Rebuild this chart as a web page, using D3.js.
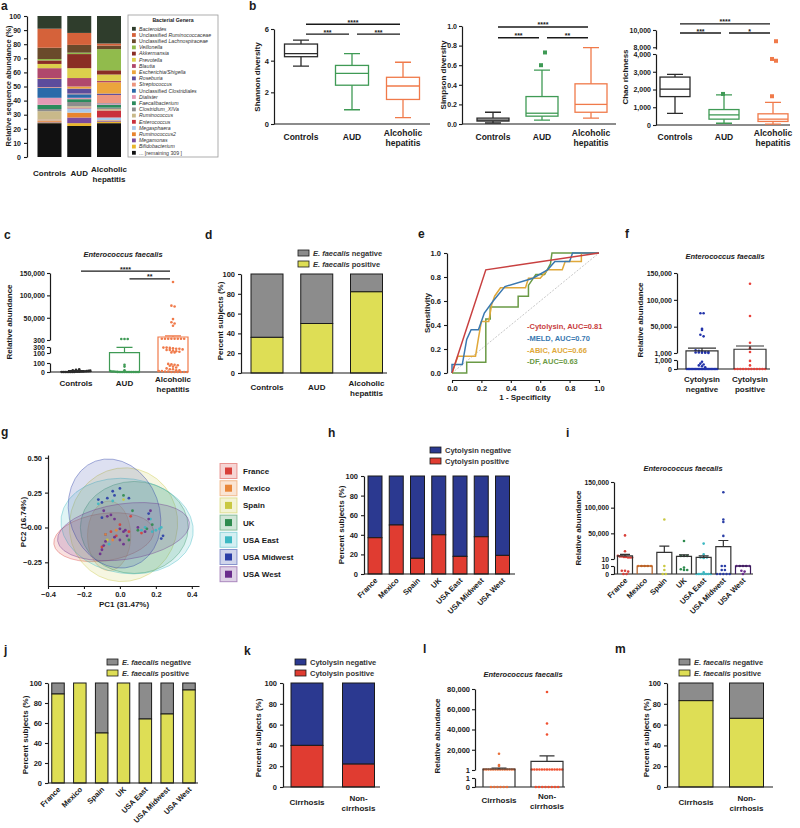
<!DOCTYPE html>
<html>
<head>
<meta charset="utf-8">
<script src="https://cdn.jsdelivr.net/npm/d3@7"></script>
<style>
  body { margin: 0; background: #fff; }
  svg { display: block; font-family: "Liberation Sans", Arial, sans-serif; }
</style>
</head>
<body>
<svg id="fig" width="800" height="828"></svg>
<script>
// ================= DATA =================

// a: genus composition (% reads), listed bottom -> top of each stack
const groups = ['Controls', 'AUD', 'Alcoholic\nhepatitis'];
const genera = ['... [remaining 309 ]', 'Bifidobacterium', 'Megamonas', 'Ruminococcus2', 'Megasphaera',
  'Enterococcus', 'Ruminococcus', 'Clostridium_XIVa', 'Faecalibacterium', 'Dialister',
  'Unclassified Clostridiales', 'Streptococcus', 'Roseburia', 'Escherichia/Shigella', 'Blautia',
  'Prevotella', 'Akkermansia', 'Veillonella', 'Unclassified Lachnospiraceae',
  'Unclassified Ruminococcaceae', 'Bacteroides'];
const generaColors = ['#111111', '#e8b62c', '#7b4b9e', '#e8842e', '#a9c9ea', '#c9303c', '#c9b98a',
  '#8d8d8d', '#2b8b5d', '#e39ab5', '#2a6aa9', '#ec9680', '#5c4c9c', '#eba53c', '#b0486c',
  '#dccf4c', '#8a2d25', '#91bb4c', '#6a4a2b', '#d5623a', '#2f3d2c'];
const controlsPct = [24, 0.5, 0.5, 1, 0.3, 0.2, 6, 1.5, 3, 5, 7, 0.5, 6, 0.5, 7, 3, 2.5, 1, 8, 13.5, 9];
const audPct      = [22, 2, 4, 3.5, 3, 0.5, 1, 3, 2, 1, 2.5, 0.5, 3.5, 1.5, 6, 7, 10, 1, 5.5, 8.5, 12];
const ahPct       = [24, 1, 0.5, 0.5, 2, 5, 1, 1, 2, 0.5, 0.5, 6, 1, 8, 1, 4.5, 3, 15, 2.5, 1.5, 19.5];

// b: box plots, [min, q1, median, q3, max]
const groupColors = ['#2b2b2b', '#3f9a55', '#f07a4a'];
const shannonBox = [[3.65, 4.25, 4.45, 5.05, 5.3], [0.9, 2.45, 3.2, 3.7, 4.45], [0.4, 1.55, 2.4, 2.95, 3.9]];
const shannonOut = [[], [], []];
const shannonSig = [[0, 2, 6.3, '****'], [0, 1, 5.68, '***'], [1, 2, 5.68, '***']];
const simpsonBox = [[0.01, 0.03, 0.04, 0.06, 0.12], [0.04, 0.08, 0.11, 0.28, 0.55], [0.06, 0.12, 0.2, 0.41, 0.78]];
const simpsonOut = [[], [0.6, 0.73], []];
const simpsonSig = [[0, 2, 0.99, '****'], [0, 1, 0.88, '***'], [1, 2, 0.88, '**']];
const chaoBox = [[650, 1600, 2020, 2700, 2850], [100, 330, 570, 870, 1700], [50, 200, 330, 630, 1280]];
const chaoOut = [[], [1750], [1620, 3620, 3720, 8700]];
const chaoSig = [[0, 2, 10700, '****'], [0, 1, 9650, '***'], [1, 2, 9650, '*']];

// c: E. faecalis abundance per group
const cMeans = [5, 110, 7000];
const cSemTop = [15, 290, 9500];
const cDots = [
  [0, 0, 0, 0, 0, 0, 0, 0, 2, 2, 3, 5, 5, 8, 10, 12, 15, 20, 25, 30],
  [2500, 2500, 2500, 80, 60, 20, 10, 5, 5, 2, 1, 0, 0, 0, 0, 0, 0, 0, 0, 0, 0, 0, 0],
  [130000, 77000, 75000, 47000, 40000, 37000, 32000, 3000, 3000, 3000, 3000, 3000, 3000, 3000, 3000,
   280, 280, 270, 260, 240, 240, 220, 200, 200, 180, 160, 140, 120, 120,
   90, 85, 80, 75, 70, 60, 50, 40, 30, 30, 20, 20, 10, 10, 5, 5, 0, 0, 0, 0, 0, 0]
];
const cSig = [[0, 2, 154000, '****'], [1, 2, 137000, '**']];

// d, j, m: % E. faecalis positive ; h, k: % cytolysin positive
const dPos = [36, 50, 82];
const regions = ['France', 'Mexico', 'Spain', 'UK', 'USA East', 'USA Midwest', 'USA West'];
const regionColors = ['#d8403a', '#e8873a', '#c9c842', '#2e8b4e', '#3cb8c2', '#2a3ea6', '#6a2c8c'];
const hPos = [37, 50, 16, 40, 18, 38, 19];
const jPos = [89, 100, 50, 100, 64, 69, 93];
const cirrhosisCats = ['Cirrhosis', 'Non-\ncirrhosis'];
const kPos = [40, 22];
const mPos = [83, 66];

// e: ROC curves, [1 - specificity, sensitivity]
const rocCytolysin = [[0, 0], [0.23, 0.86], [1, 1]];
const rocMELD = [[0, 0], [0, 0.07], [0.07, 0.07], [0.1, 0.28], [0.13, 0.36], [0.18, 0.36], [0.22, 0.5],
  [0.28, 0.6], [0.36, 0.72], [0.55, 0.79], [0.65, 0.86], [0.7, 0.93], [0.8, 0.93], [0.82, 1], [1, 1]];
const rocABIC = [[0, 0], [0.04, 0.14], [0.16, 0.14], [0.18, 0.29], [0.2, 0.43], [0.25, 0.43], [0.27, 0.57],
  [0.29, 0.64], [0.33, 0.71], [0.5, 0.71], [0.52, 0.79], [0.6, 0.79], [0.65, 0.86], [0.75, 0.86],
  [0.77, 0.93], [0.88, 0.93], [0.88, 1], [1, 1]];
const rocDF = [[0, 0], [0.1, 0], [0.1, 0.09], [0.23, 0.09], [0.23, 0.45], [0.26, 0.45], [0.26, 0.55],
  [0.45, 0.55], [0.45, 0.64], [0.52, 0.64], [0.52, 0.73], [0.57, 0.82], [0.63, 0.82], [0.67, 0.91],
  [0.68, 1], [1, 1]];
const rocNames = ['-Cytolysin, AUC=0.81', '-MELD, AUC=0.70', '-ABIC, AUC=0.66', '-DF, AUC=0.63'];
const rocColors = ['#c84040', '#3a78b0', '#e0a83a', '#6a9a45'];

// f: abundance by cytolysin status
const cytoCats = ['Cytolysin\nnegative', 'Cytolysin\npositive'];
const fMeans = [5000, 8000];
const fSemTop = [10000, 14000];
const fDots = [
  [75000, 75000, 46000, 44000, 35000, 32000, 6000, 5000, 4000, 3000, 3000, 2000, 2000, 1500, 1500, 1200,
   800, 600, 500, 400, 300, 200, 0, 0, 0, 0, 0, 0, 0, 0, 0, 0, 0, 0, 0, 0, 0, 0, 0, 0, 0, 0, 0, 0],
  [130000, 70000, 20000, 10000, 3000, 900, 400, 0, 0, 0, 0, 0, 0, 0, 0, 0, 0, 0, 0]
];

// g: PCoA, ellipse = [cx, cy, rx, ry, rotation deg]; points = [PC1, PC2, region]
const regionEllipses = [[-0.09, -0.07, 0.28, 0.17, -8], [-0.06, -0.06, 0.12, 0.25, 0],
  [0.02, 0.02, 0.3, 0.41, 15], [0.08, 0.0, 0.3, 0.33, 0], [0.04, 0.01, 0.37, 0.34, 8],
  [-0.03, 0.1, 0.25, 0.4, -20], [0.02, -0.03, 0.37, 0.2, -8]];
const pcaPoints = [
  [-0.12, 0.2, 5], [-0.1, 0.18, 5], [-0.07, 0.21, 5], [-0.04, 0.26, 5], [-0.03, 0.23, 5], [0.0, 0.28, 5],
  [0.05, 0.21, 5], [0.23, -0.08, 5], [0.24, -0.06, 5], [0.16, 0.1, 5], [-0.1, 0.07, 5], [-0.08, -0.05, 5],
  [-0.12, 0.17, 4], [-0.04, 0.19, 4], [0.14, 0.0, 4], [0.17, 0.06, 4], [0.2, -0.02, 4], [0.22, -0.01, 4],
  [0.23, 0.0, 4], [0.18, -0.03, 4], [-0.06, -0.12, 4], [0.12, -0.02, 4],
  [0.02, 0.23, 3], [0.07, 0.12, 3], [0.15, -0.01, 3], [0.1, -0.02, 3], [0.05, -0.09, 3], [0.18, 0.02, 3],
  [0.02, 0.2, 2], [-0.07, -0.09, 2],
  [-0.08, -0.05, 1], [-0.04, -0.09, 1], [-0.02, -0.02, 1],
  [-0.05, -0.03, 0], [0.0, 0.02, 0], [0.06, 0.08, 0], [-0.02, -0.06, 0], [0.12, -0.04, 0], [0.05, -0.03, 0], [-0.1, -0.14, 0],
  [-0.1, -0.16, 6], [-0.11, -0.19, 6], [-0.09, -0.13, 6], [-0.08, -0.1, 6], [-0.07, 0.08, 6], [-0.03, 0.06, 6],
  [-0.05, 0.09, 6], [0.0, -0.01, 6], [0.02, -0.03, 6], [0.03, -0.02, 6], [0.17, 0.12, 6], [0.16, 0.06, 6],
  [0.14, -0.03, 6], [0.1, 0.0, 6], [-0.03, -0.07, 6], [0.0, -0.09, 6], [0.02, -0.12, 6], [-0.09, 0.12, 6],
  [0.04, -0.06, 6]
];

// i: abundance by region
const iMeans = [6000, 10, 13000, 5000, 3000, 24000, 10];
const iSemTop = [9000, 10, 25000, 8000, 6000, 36000, 10];
const iDots = [
  [46000, 15000, 6000, 5000, 5000, 4000, 4000, 3000, 3000, 3000, 4, 4, 3, 0, 0],
  [10, 10, 10, 10, 10],
  [77000, 10, 5, 0, 0],
  [35000, 6000, 6000, 6000, 8, 6, 5, 5],
  [30000, 9000, 3000, 3000, 3000, 2000, 2, 0, 0, 0, 0, 0, 0, 0],
  [130000, 77000, 72000, 45000, 10, 10, 5, 5, 0, 0, 0, 0, 0],
  [10, 10, 10, 10, 10, 4, 3, 0]
];

// l: abundance by cirrhosis status
const lMeans = [1000, 8500];
const lSemTop = [2000, 14000];
const lDots = [
  [16000, 5000, 4000, 500, 500, 500, 500, 500, 500, 500, 500, 500, 500, 500, 500, 500, 500, 0, 0, 0, 0, 0, 0],
  [77000, 46000, 35000, 500, 500, 500, 500, 500, 500, 500, 500, 500, 500, 500, 500, 500, 0, 0, 0, 0, 0, 0, 0, 0]
];

// ================= HELPERS =================
const svg = d3.select('#fig');
const INK = '#1a1a1a';
const POS_YEL = '#dede55', NEG_GRAY = '#8c8c8c', CYT_RED = '#e03c31', CYT_BLUE = '#2b3990';

function txt(x, y, s, o = {}) {
  return svg.append('text').attr('x', x).attr('y', y)
    .attr('font-size', o.size || 8).attr('font-weight', o.weight || 'bold')
    .attr('text-anchor', o.anchor || 'middle').attr('fill', o.fill || INK)
    .attr('font-style', o.italic ? 'italic' : null).text(s);
}

function yTitle(x, cy, s, size = 8) {
  svg.append('text').attr('transform', `translate(${x},${cy}) rotate(-90)`)
    .attr('text-anchor', 'middle').attr('font-size', size).attr('font-weight', 'bold')
    .attr('fill', INK).text(s);
}

function styleAxis(g, fs = 7.5) {
  g.attr('font-family', null);
  g.select('.domain').attr('stroke', INK).attr('stroke-width', 1.2);
  g.selectAll('.tick line').attr('stroke', INK).attr('stroke-width', 1.1);
  g.selectAll('.tick text').attr('font-size', fs).attr('font-weight', 'bold').attr('fill', INK);
}

function hline(x1, x2, y, w = 1.2) {
  svg.append('line').attr('x1', x1).attr('x2', x2).attr('y1', y).attr('y2', y)
    .attr('stroke', INK).attr('stroke-width', w);
}

// broken y axis made of linear segments; returns value -> pixel
function segAxis(x, segs, fmt, fs = 7.5, pad = 3) {
  segs.forEach(s => {
    s.scale = d3.scaleLinear().domain(s.domain).range(s.range);
    const g = svg.append('g').attr('transform', `translate(${x},0)`)
      .call(d3.axisLeft(s.scale).tickValues(s.ticks).tickFormat(fmt)
        .tickSize(3).tickSizeOuter(0).tickPadding(pad));
    styleAxis(g, fs);
  });
  return v => {
    for (const s of segs) if (v <= s.domain[1]) return s.scale(Math.max(v, s.domain[0]));
    return segs[segs.length - 1].scale(v);
  };
}

function catLabels(x, cats, base, size = 8) {
  cats.forEach(c => {
    const lines = c.split('\n');
    const y0 = lines.length > 1 ? base - 4 : base;
    lines.forEach((l, k) => txt(x(c), y0 + k * 10, l, { size }));
  });
}

function rotLabels(x, cats, y0, size = 7.5) {
  cats.forEach(c => {
    svg.append('text').attr('transform', `translate(${x(c) + 3},${y0 + 7}) rotate(-45)`)
      .attr('text-anchor', 'end').attr('font-size', size).attr('font-weight', 'bold')
      .attr('fill', INK).text(c);
  });
}

function sigBars(x, y, cats, sig) {
  sig.forEach(([a, b, v, s]) => {
    const x1 = x(cats[a]) + 5, x2 = x(cats[b]) - 3, yy = y(v);
    hline(x1, x2, yy, 1.3);
    txt((x1 + x2) / 2, yy + 0.5, s, { size: 7 });
  });
}

function legend2(x, y, items) {
  items.forEach((it, i) => {
    const yy = y + i * 11;
    svg.append('rect').attr('x', x).attr('y', yy - 6).attr('width', 11).attr('height', 6)
      .attr('fill', it.c).attr('stroke', INK).attr('stroke-width', 0.8);
    const t = svg.append('text').attr('x', x + 15).attr('y', yy).attr('font-size', 7.5)
      .attr('font-weight', 'bold').attr('fill', '#333');
    it.parts.forEach(p => t.append('tspan').attr('font-style', p[1] ? 'italic' : null).text(p[0]));
  });
}

const efLegend = [{ c: NEG_GRAY, parts: [['E. faecalis', true], [' negative', false]] },
                  { c: POS_YEL, parts: [['E. faecalis', true], [' positive', false]] }];
const cytLegend = [{ c: CYT_BLUE, parts: [['Cytolysin negative', false]] },
                   { c: CYT_RED, parts: [['Cytolysin positive', false]] }];

function percentPanel(o) {
  const x = d3.scalePoint().domain(o.cats).range(o.cx);
  const y = d3.scaleLinear().domain([0, 100]).range(o.py);
  const g = svg.append('g').attr('transform', `translate(${o.ax[0]},0)`)
    .call(d3.axisLeft(y).tickValues([0, 20, 40, 60, 80, 100]).tickSize(3).tickSizeOuter(0));
  styleAxis(g);
  o.cats.forEach((c, i) => {
    const bx = x(c) - o.barW / 2;
    svg.append('rect').attr('x', bx).attr('y', y(100)).attr('width', o.barW)
      .attr('height', y(o.pos[i]) - y(100)).attr('fill', o.colors[1])
      .attr('stroke', INK).attr('stroke-width', 1);
    svg.append('rect').attr('x', bx).attr('y', y(o.pos[i])).attr('width', o.barW)
      .attr('height', y(0) - y(o.pos[i])).attr('fill', o.colors[0])
      .attr('stroke', INK).attr('stroke-width', 1);
  });
  hline(o.ax[0], o.ax[1], y(0));
  if (o.rotate) rotLabels(x, o.cats, y(0));
  else catLabels(x, o.cats, o.labelY, 8);
  yTitle(o.yt[0], o.yt[1], 'Percent subjects (%)');
  legend2(o.legend[0], o.legend[1], o.legendItems);
}

function swarm(vals, y, cx, maxW) {
  const rows = d3.group(vals.map(v => y(v)), py => Math.round(py / 2.6));
  const pts = [];
  for (const [, ys] of rows) {
    const n = ys.length, step = n > 1 ? Math.min(3.2, maxW / (n - 1)) : 0;
    ys.forEach((py, k) => pts.push([cx + (k - (n - 1) / 2) * step, py]));
  }
  return pts;
}

function dotBarPanel(o) {
  const y = segAxis(o.ax[0], o.segs, d3.format(','), o.fs || 7.5, 2);
  const x = d3.scalePoint().domain(o.cats).range(o.cx);
  const y0 = y(0);
  hline(o.ax[0], o.ax[1], y0);
  o.cats.forEach((c, i) => {
    const cx = x(c), w = o.barW;
    swarm(o.dots[i], y, cx, w * 0.95).forEach(p =>
      svg.append('circle').attr('cx', p[0]).attr('cy', p[1]).attr('r', 1.3).attr('fill', o.dotColors[i]));
    svg.append('path').attr('d', `M${cx - w / 2},${y0}V${y(o.means[i])}H${cx + w / 2}V${y0}`)
      .attr('fill', 'none').attr('stroke', o.barColors[i]).attr('stroke-width', 1.2);
    const ys = y(o.sems[i]);
    svg.append('path')
      .attr('d', `M${cx},${y(o.means[i])}V${ys}M${cx - o.capW / 2},${ys}H${cx + o.capW / 2}`)
      .attr('fill', 'none').attr('stroke', o.barColors[i]).attr('stroke-width', 1.2);
  });
  if (o.rotate) rotLabels(x, o.cats, y0);
  else catLabels(x, o.cats, o.labelY, 8);
  txt(o.title[0], o.title[1], 'Enterococcus faecalis', { size: 7.5, italic: true });
  yTitle(o.yt[0], o.yt[1], 'Relative abundance');
  if (o.sig) sigBars(x, y, o.cats, o.sig);
}

function boxPanel(o) {
  const y = segAxis(o.ax[0], o.segs, o.fmt, o.fs || 7.5, 2);
  const x = d3.scalePoint().domain(groups).range(o.cx);
  hline(o.ax[0], o.ax[1], y(0));
  groups.forEach((g, i) => {
    const [mn, q1, md, q3, mx] = o.stats[i], cx = x(g), w = o.boxW, col = groupColors[i];
    const st = sel => sel.attr('stroke', col).attr('stroke-width', 1.3).attr('fill', 'none');
    st(svg.append('path').attr('d',
      `M${cx},${y(mn)}V${y(q1)}M${cx},${y(q3)}V${y(mx)}M${cx - 8},${y(mn)}H${cx + 8}M${cx - 8},${y(mx)}H${cx + 8}`));
    st(svg.append('rect').attr('x', cx - w / 2).attr('y', y(q3)).attr('width', w).attr('height', y(q1) - y(q3)));
    st(svg.append('line').attr('x1', cx - w / 2).attr('x2', cx + w / 2).attr('y1', y(md)).attr('y2', y(md)));
    o.out[i].forEach((v, k) => svg.append('rect').attr('x', cx - 2 + (k % 2 ? 3 : -1)).attr('y', y(v) - 2)
      .attr('width', 4).attr('height', 4).attr('fill', col));
  });
  catLabels(x, groups, 140, 8.5);
  yTitle(o.yt[0], o.yt[1], o.title);
  sigBars(x, y, groups, o.sig);
}

// ================= PANELS =================
// panel letters
[['a', 1, 10], ['b', 249, 10], ['c', 4, 239], ['d', 205, 239], ['e', 418, 238], ['f', 625, 238],
 ['g', 1, 436], ['h', 328, 437], ['i', 566, 437], ['j', 4, 654], ['k', 244, 655], ['l', 423, 653],
 ['m', 615, 653]].forEach(([s, x, y]) => txt(x, y, s, { size: 12, anchor: 'start' }));

// ---- a ----
(function () {
  const x = d3.scalePoint().domain(groups).range([49.5, 109]);
  const y = d3.scaleLinear().domain([0, 100]).range([157, 16]);
  const g = svg.append('g').attr('transform', 'translate(27,0)')
    .call(d3.axisLeft(y).ticks(10).tickSize(3).tickSizeOuter(0));
  styleAxis(g, 7);
  [controlsPct, audPct, ahPct].forEach((pct, gi) => {
    const tops = d3.cumsum(pct);
    pct.forEach((v, k) => {
      svg.append('rect').attr('x', x(groups[gi]) - 12).attr('y', y(tops[k]))
        .attr('width', 24).attr('height', y(tops[k] - v) - y(tops[k])).attr('fill', generaColors[k]);
    });
  });
  catLabels(x, groups, 176, 8);
  yTitle(11, 86, 'Relative sequence abundance (%)', 7.5);
  svg.append('rect').attr('x', 128).attr('y', 15).attr('width', 90).attr('height', 142)
    .attr('fill', '#fff').attr('stroke', '#999').attr('stroke-width', 0.8);
  txt(173, 22, 'Bacterial Genera', { size: 5.2 });
  genera.slice().reverse().forEach((name, i) => {
    const k = genera.length - 1 - i, yy = 30.5 + i * 6.2;
    svg.append('rect').attr('x', 132).attr('y', yy - 3.6).attr('width', 3.8).attr('height', 3.8)
      .attr('fill', generaColors[k]);
    const t = svg.append('text').attr('x', 139).attr('y', yy).attr('font-size', 5.2).attr('fill', '#333');
    if (name.startsWith('Unclassified ')) {
      t.append('tspan').text('Unclassified ');
      t.append('tspan').attr('font-style', 'italic').text(name.slice(13));
    } else if (name.startsWith('...')) t.text(name);
    else t.attr('font-style', 'italic').text(name);
  });
})();

// ---- b ----
boxPanel({ ax: [274, 430], cx: [301, 403], boxW: 33, stats: shannonBox, out: shannonOut, sig: shannonSig,
  segs: [{ domain: [0, 6], range: [124, 29], ticks: [0, 2, 4, 6] }], fmt: d3.format('d'),
  yt: [260, 77], title: 'Shannon diversity' });
boxPanel({ ax: [462, 616], cx: [493, 591], boxW: 32, stats: simpsonBox, out: simpsonOut, sig: simpsonSig, fs: 7,
  segs: [{ domain: [0, 1], range: [124, 26], ticks: [0, 0.2, 0.4, 0.6, 0.8, 1] }], fmt: d3.format('.1f'),
  yt: [446, 75], title: 'Simpson diversity' });
boxPanel({ ax: [656, 790], cx: [675, 773], boxW: 30, stats: chaoBox, out: chaoOut, sig: chaoSig, fs: 7,
  segs: [{ domain: [0, 4000], range: [125, 54], ticks: [0, 1000, 2000, 3000, 4000] },
         { domain: [7800, 10000], range: [49, 30], ticks: [8000, 10000] }], fmt: d3.format(','),
  yt: [628, 77], title: 'Chao richness' });

// ---- c ----
dotBarPanel({ ax: [50, 187], cx: [76, 173], cats: groups, means: cMeans, sems: cSemTop, dots: cDots, fs: 7,
  segs: [{ domain: [0, 100], range: [372, 363], ticks: [0, 100] },
         { domain: [100, 300], range: [353, 347], ticks: [100, 300] },
         { domain: [300, 150000], range: [340, 273], ticks: [300, 50000, 100000, 150000] }],
  dotColors: groupColors, barColors: groupColors, barW: 30, capW: 16, labelY: 386,
  title: [123, 257], yt: [12, 322], sig: cSig });

// ---- d ----
percentPanel({ cats: groups, pos: dPos, cx: [267, 366.5], ax: [241, 387], py: [373, 274], barW: 32,
  colors: [POS_YEL, NEG_GRAY], labelY: 390, yt: [223, 321], legend: [298, 256], legendItems: efLegend });

// ---- e ----
(function () {
  const x = d3.scaleLinear().domain([0, 1]).range([452, 599]);
  const y = d3.scaleLinear().domain([0, 1]).range([373, 253]);
  const ticks = [0, 0.2, 0.4, 0.6, 0.8, 1];
  styleAxis(svg.append('g').attr('transform', 'translate(447,0)')
    .call(d3.axisLeft(y).tickValues(ticks).tickFormat(d3.format('.1f')).tickSize(3).tickSizeOuter(0)));
  styleAxis(svg.append('g').attr('transform', 'translate(0,380)')
    .call(d3.axisBottom(x).tickValues(ticks).tickFormat(d3.format('.1f')).tickSize(3).tickSizeOuter(0)));
  const line = d3.line().x(d => x(d[0])).y(d => y(d[1]));
  svg.append('path').attr('d', line([[0, 0], [1, 1]])).attr('stroke', '#c8c8c8')
    .attr('stroke-dasharray', '2,1.5').attr('fill', 'none');
  [rocDF, rocABIC, rocMELD, rocCytolysin].forEach((r, i) => {
    svg.append('path').attr('d', line(r)).attr('fill', 'none')
      .attr('stroke', rocColors[3 - i]).attr('stroke-width', 1.5);
  });
  rocNames.forEach((n, i) => txt(527, 329 + i * 11.8, n, { size: 7.5, anchor: 'start', fill: rocColors[i] }));
  txt(525, 400, '1 - Specificity', { size: 8 });
  yTitle(430, 313, 'Sensitivity');
})();

// ---- f ----
dotBarPanel({ ax: [677, 770], cx: [702, 750], cats: cytoCats, means: fMeans, sems: fSemTop, dots: fDots, fs: 7,
  segs: [{ domain: [0, 1000], range: [369, 360], ticks: [0, 1000] },
         { domain: [1000, 150000], range: [353, 273], ticks: [1000, 50000, 100000, 150000] }],
  dotColors: ['#2233aa', '#e8403a'], barColors: ['#333', '#333'], barW: 32, capW: 28, labelY: 386,
  title: [725, 259], yt: [643, 320] });

// ---- g ----
(function () {
  const x = d3.scaleLinear().domain([-0.4, 0.44]).range([48, 199]);
  const y = d3.scaleLinear().domain([-0.42, 0.52]).range([586, 455]);
  styleAxis(svg.append('g').attr('transform', 'translate(48,0)')
    .call(d3.axisLeft(y).tickValues([-0.25, 0, 0.25, 0.5]).tickFormat(d3.format('.2f')).tickSize(3).tickSizeOuter(0)));
  styleAxis(svg.append('g').attr('transform', 'translate(0,586)')
    .call(d3.axisBottom(x).tickValues([-0.4, -0.2, 0, 0.2, 0.4]).tickFormat(d3.format('.1f')).tickSize(3).tickSizeOuter(0)));
  const sx = x(1) - x(0), sy = y(0) - y(1);
  regionEllipses.forEach(([cx, cy, rx, ry, rot], i) => {
    svg.append('ellipse').attr('transform', `translate(${x(cx)},${y(cy)}) rotate(${rot})`)
      .attr('rx', rx * sx).attr('ry', ry * sy)
      .attr('fill', regionColors[i]).attr('fill-opacity', 0.16)
      .attr('stroke', regionColors[i]).attr('stroke-opacity', 0.45).attr('stroke-width', 0.8);
  });
  pcaPoints.forEach(([px, py, r]) => svg.append('circle').attr('cx', x(px)).attr('cy', y(py))
    .attr('r', 1.4).attr('fill', regionColors[r]).attr('fill-opacity', 0.9));
  txt(124, 607, 'PC1 (31.47%)', { size: 8 });
  yTitle(26, 522, 'PC2 (16.74%)');
  regions.forEach((r, i) => {
    const yy = 471 + i * 17.2;
    svg.append('rect').attr('x', 220).attr('y', yy - 7.5).attr('width', 17).attr('height', 15)
      .attr('fill', regionColors[i]).attr('fill-opacity', 0.22)
      .attr('stroke', regionColors[i]).attr('stroke-opacity', 0.5);
    svg.append('rect').attr('x', 225).attr('y', yy - 3.5).attr('width', 7).attr('height', 7)
      .attr('fill', regionColors[i]);
    txt(243, yy + 3, r, { size: 8, anchor: 'start' });
  });
})();

// ---- h ----
percentPanel({ cats: regions, pos: hPos, cx: [375, 502.5], ax: [364, 515], py: [574, 476], barW: 14,
  colors: [CYT_RED, CYT_BLUE], rotate: true, yt: [344, 525], legend: [430, 453], legendItems: cytLegend });

// ---- i ----
dotBarPanel({ ax: [614, 753], cx: [625, 743], cats: regions, means: iMeans, sems: iSemTop, dots: iDots, fs: 6.8,
  segs: [{ domain: [0, 10], range: [574, 566], ticks: [0, 10] },
         { domain: [10, 150000], range: [559, 482], ticks: [10, 50000, 100000, 150000] }],
  dotColors: regionColors, barColors: ['#333', '#b05a20', '#333', '#333', '#333', '#333', '#3a1a5a'],
  barW: 15, capW: 10, rotate: true, title: [683, 471], yt: [581, 528] });

// ---- j ----
percentPanel({ cats: regions, pos: jPos, cx: [58, 189], ax: [48, 198], py: [783, 683], barW: 12.5,
  colors: [POS_YEL, NEG_GRAY], rotate: true, yt: [28, 735], legend: [107, 665], legendItems: efLegend });

// ---- k ----
percentPanel({ cats: cirrhosisCats, pos: kPos, cx: [307, 358.5], ax: [283, 380], py: [787, 683], barW: 32,
  colors: [CYT_RED, CYT_BLUE], labelY: 805, yt: [261, 738], legend: [295, 665], legendItems: cytLegend });

// ---- l ----
dotBarPanel({ ax: [475, 565], cx: [499, 547], cats: cirrhosisCats, means: lMeans, sems: lSemTop, dots: lDots,
  segs: [{ domain: [0, 1], range: [787, 778], ticks: [0, 1] },
         { domain: [1, 80000], range: [770, 689], ticks: [1, 20000, 40000, 60000, 80000] }],
  dotColors: ['#e8703a', '#f05030'], barColors: ['#333', '#333'], barW: 32, capW: 15, labelY: 803,
  title: [523, 677], yt: [440, 736] });

// ---- m ----
percentPanel({ cats: cirrhosisCats, pos: mPos, cx: [696, 746.5], ax: [667, 773], py: [787, 683], barW: 34,
  colors: [POS_YEL, NEG_GRAY], labelY: 805, yt: [649, 738], legend: [679, 665], legendItems: efLegend });
</script>
</body>
</html>
